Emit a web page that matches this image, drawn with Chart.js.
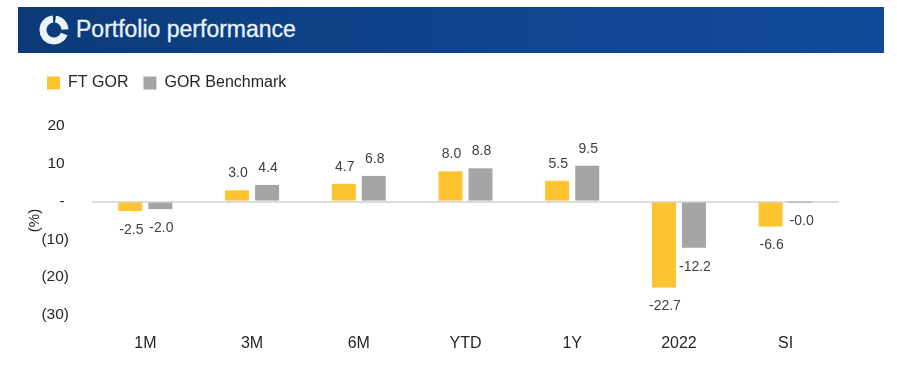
<!DOCTYPE html>
<html>
<head>
<meta charset="utf-8">
<title>Portfolio performance</title>
<script src="https://cdn.jsdelivr.net/npm/chart.js@4/dist/chart.umd.min.js"></script>
<style>
  html, body { margin: 0; padding: 0; background: #fff; overflow: hidden; }
  #banner {
    position: absolute; left: 18px; top: 7px; width: 866px; height: 46px;
    background: linear-gradient(90deg, #0c3a78 0%, #0f4690 60%, #114a98 100%);
  }
  #banner svg { position: absolute; left: 21px; top: 8px; }
  #banner span {
    position: absolute; left: 58px; top: 9px;
    font: 23px/27px "Liberation Sans", sans-serif; color: #e9f3f9;
    -webkit-text-stroke: 0.3px #e9f3f9;
  }
  #wrap { position: absolute; left: 0; top: 60px; width: 897px; height: 310px; }
</style>
</head>
<body>
<div id="banner">
  <svg width="30" height="30" viewBox="0 0 30 30">
    <g fill="none" stroke="#eaf4f8" stroke-width="7">
      <path d="M14 4 A11 11 0 1 0 25.2 19"/>
      <path d="M16.5 4.1 A11 11 0 0 1 26 14.5"/>
    </g>
  </svg>
  <span>Portfolio performance</span>
</div>
<div id="wrap"><canvas id="canvas"></canvas></div>
<script>
var categories = ['1M', '3M', '6M', 'YTD', '1Y', '2022', 'SI'];
var ftGor = [-2.5, 3.0, 4.7, 8.0, 5.5, -22.7, -6.6];
var gorBenchmark = [-2.0, 4.4, 6.8, 8.8, 9.5, -12.2, -0.02];
var yTickValues = [20, 10, 0, -10, -20, -30];
var yTickLabels = ['20\u00a0', '10\u00a0', '-\u00a0', '(10)', '(20)', '(30)'];

var FONT = '"Liberation Sans", sans-serif';

// value labels sit a fixed distance above or below the end of each bar
var barLabels = {
  id: 'barLabels',
  afterDatasetsDraw: function(chart) {
    var ctx = chart.ctx;
    ctx.save();
    ctx.font = '14px ' + FONT;
    ctx.fillStyle = '#404040';
    ctx.textAlign = 'center';
    ctx.textBaseline = 'middle';
    chart.data.datasets.forEach(function(ds, i) {
      chart.getDatasetMeta(i).data.forEach(function(bar, j) {
        var v = ds.data[j];
        ctx.fillText(v.toFixed(1), bar.x + 1, bar.y + (v < 0 ? 19 : -17));
      });
    });
    ctx.restore();
  }
};

// room between the legend and the top of the plot
var legendGap = {
  id: 'legendGap',
  beforeInit: function(chart) {
    var fit = chart.legend.fit;
    chart.legend.fit = function() {
      fit.call(this);
      this.height = 66;
    };
  }
};

new Chart(document.getElementById('canvas').getContext('2d'), {
  type: 'bar',
  data: {
    labels: categories,
    datasets: [
      { label: 'FT GOR', data: ftGor, backgroundColor: '#fec42f' },
      { label: 'GOR Benchmark', data: gorBenchmark, backgroundColor: '#a5a5a5' }
    ]
  },
  options: {
    responsive: true,
    maintainAspectRatio: false,
    animation: false,
    layout: { padding: { left: 32, right: 58, top: 0, bottom: 0 } },
    datasets: { bar: { categoryPercentage: 0.5625, barPercentage: 0.8 } },
    plugins: {
      tooltip: { enabled: false },
      legend: {
        position: 'top',
        align: 'start',
        labels: {
          boxWidth: 13,
          boxHeight: 13,
          padding: 15,
          color: '#262626',
          font: { family: FONT, size: 16 }
        }
      }
    },
    scales: {
      x: {
        grid: { display: false },
        border: { display: false },
        afterFit: function(scale) { scale.height = 55; },
        ticks: {
          color: '#262626',
          padding: 11,
          maxRotation: 0,
          font: { family: FONT, size: 16 }
        }
      },
      y: {
        min: -30,
        max: 20,
        afterFit: function(scale) { scale.width = 60; },
        afterBuildTicks: function(scale) {
          scale.ticks = yTickValues.map(function(v) { return { value: v }; });
        },
        border: { display: false },
        grid: {
          drawTicks: false,
          lineWidth: 2,
          color: function(c) { return c.tick.value === 0 ? '#dcdcdc' : 'transparent'; }
        },
        title: {
          display: true,
          text: '(%)',
          color: '#262626',
          padding: { top: -6, bottom: 0 },
          font: { family: FONT, size: 15 }
        },
        ticks: {
          color: '#262626',
          padding: 23,
          font: { family: FONT, size: 15.5 },
          callback: function(v) { return yTickLabels[yTickValues.indexOf(v)]; }
        }
      }
    }
  },
  plugins: [barLabels, legendGap]
});
</script>
</body>
</html>
